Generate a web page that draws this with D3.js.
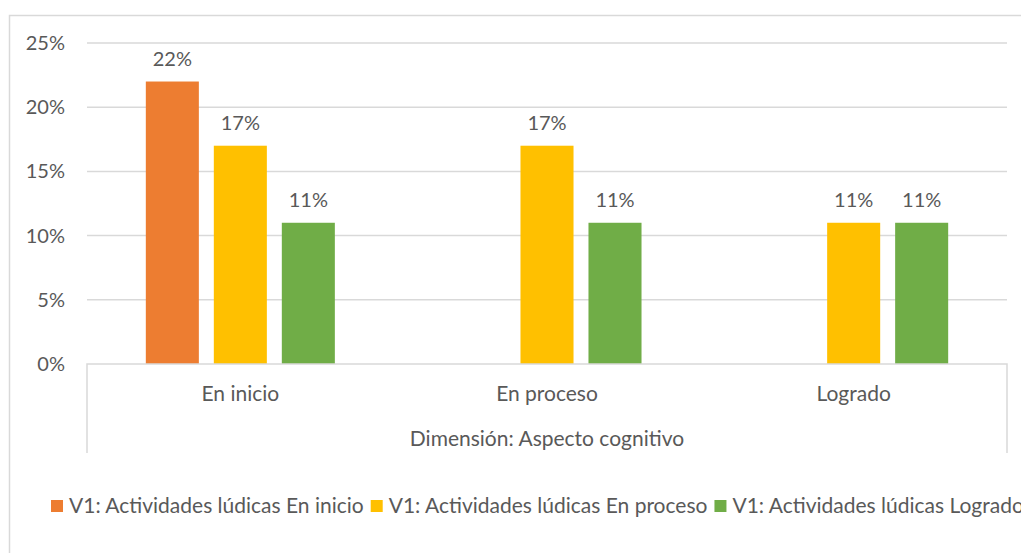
<!DOCTYPE html>
<html>
<head>
<meta charset="utf-8">
<script src="https://cdn.jsdelivr.net/npm/d3@7"></script>
<style>
  body { margin: 0; background: #fff; }
  text { font-family: Lato, "Liberation Sans", sans-serif; fill: #595959; }
</style>
</head>
<body>
<div id="chart"></div>
<script>
// data
var categories = ["En inicio", "En proceso", "Logrado"];
var seriesNames = [
  "V1: Actividades lúdicas En inicio",
  "V1: Actividades lúdicas En proceso",
  "V1: Actividades lúdicas Logrado"
];
var seriesColors = ["#ED7D31", "#FFC000", "#70AD47"];
var enInicio = [22, null, null];
var enProceso = [17, 17, 11];
var logrado = [11, 11, 11];
var yTicks = [0, 5, 10, 15, 20, 25];
var groupTitle = "Dimensión: Aspecto cognitivo";

var series = [enInicio, enProceso, logrado];

var svgWidth = 1021;
var svgHeight = 553;

var plot = { left: 87, right: 1007, top: 43, bottom: 364 };

var svg = d3.select("#chart")
  .append("svg")
  .attr("width", svgWidth)
  .attr("height", svgHeight);

// chart frame (only top and left visible in the shot)
svg.append("path")
  .attr("d", "M9.5,553 V15.5 H1021")
  .attr("fill", "none")
  .attr("stroke", "#d9d9d9")
  .attr("stroke-width", 1.5);

// scales
var yScale = d3.scaleLinear()
  .domain([0, 25])
  .range([plot.bottom, plot.top]);

var xScale = d3.scaleBand()
  .domain(categories)
  .range([plot.left, plot.right])
  .padding(0);

var xInner = d3.scaleBand()
  .domain(d3.range(series.length))
  .range([0, xScale.bandwidth()])
  .paddingInner(0.22)
  .paddingOuter(0.865);

// gridlines
svg.append("g")
  .selectAll("line")
  .data(yTicks.slice(1))
  .enter()
  .append("line")
  .attr("x1", plot.left)
  .attr("x2", plot.right)
  .attr("y1", d => yScale(d))
  .attr("y2", d => yScale(d))
  .attr("stroke", "#d9d9d9")
  .attr("stroke-width", 1.5);

// y axis labels
var leftAxis = d3.axisLeft(yScale)
  .tickValues(yTicks)
  .tickFormat(d => d + "%")
  .tickSize(0)
  .tickPadding(22);

var yAxis = svg.append("g")
  .attr("transform", `translate(${plot.left}, 0)`)
  .call(leftAxis);
yAxis.select(".domain").remove();
yAxis.selectAll("text")
  .attr("font-size", 20)
  .attr("font-family", null)
  .attr("fill", null);

// bars
var data = [];
categories.forEach(function(c, i) {
  series.forEach(function(s, j) {
    if (s[i] != null) data.push({ cat: c, s: j, v: s[i] });
  });
});

svg.append("g")
  .selectAll("rect")
  .data(data)
  .enter()
  .append("rect")
  .attr("x", d => xScale(d.cat) + xInner(d.s))
  .attr("y", d => yScale(d.v))
  .attr("width", xInner.bandwidth())
  .attr("height", d => yScale(0) - yScale(d.v))
  .attr("fill", d => seriesColors[d.s]);

// value labels
svg.append("g")
  .selectAll("text")
  .data(data)
  .enter()
  .append("text")
  .attr("x", d => xScale(d.cat) + xInner(d.s) + xInner.bandwidth() / 2)
  .attr("y", d => yScale(d.v) - 16)
  .attr("text-anchor", "middle")
  .attr("font-size", 20)
  .text(d => d.v + "%");

// category axis (multi-level)
var axisBottom = 453;
svg.append("path")
  .attr("d", `M${plot.left},${axisBottom} V${plot.bottom} H${plot.right} V${axisBottom}`)
  .attr("fill", "none")
  .attr("stroke", "#d9d9d9")
  .attr("stroke-width", 1.5);

svg.append("g")
  .selectAll("text")
  .data(categories)
  .enter()
  .append("text")
  .attr("x", d => xScale(d) + xScale.bandwidth() / 2)
  .attr("y", 401)
  .attr("text-anchor", "middle")
  .attr("font-size", 21)
  .text(d => d);

svg.append("text")
  .attr("x", (plot.left + plot.right) / 2)
  .attr("y", 446)
  .attr("text-anchor", "middle")
  .attr("font-size", 21)
  .text(groupTitle);

// legend
var legend = svg.append("g");
var lx = 51;
seriesNames.forEach(function(name, i) {
  legend.append("rect")
    .attr("x", lx)
    .attr("y", 500)
    .attr("width", 12)
    .attr("height", 12)
    .attr("fill", seriesColors[i]);
  var t = legend.append("text")
    .attr("x", lx + 18)
    .attr("y", 513)
    .attr("font-size", 21)
    .text(name);
  lx = lx + 18 + t.node().getComputedTextLength() + 7;
});
</script>
</body>
</html>
